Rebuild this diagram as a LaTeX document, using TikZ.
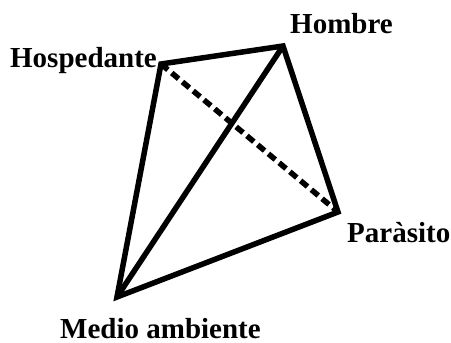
\documentclass[tikz,border=0pt]{standalone}
\usepackage{fontspec}
\setmainfont{Liberation Serif}
\begin{document}
\begin{tikzpicture}[x=1pt,y=-1pt,
  edge/.style={line width=5.5pt,line join=miter,black},
  dashedge/.style={line width=5.5pt,dash pattern=on 9pt off 5pt},
  lbl/.style={inner sep=0pt,font=\fontsize{29}{32}\selectfont\bfseries}]
\useasboundingbox (0,0) rectangle (451,343);
\coordinate (H) at (161,64);
\coordinate (M) at (283,46);
\coordinate (P) at (338,212);
\coordinate (E) at (117,297);
\draw[edge] (H) -- (M) -- (P) -- (E) -- cycle;
\draw[edge] (E) -- (M);
\draw[dashedge] (H) -- (P);
\node[lbl,anchor=base east] (lh) at (157,67) {Hospedante};
\node[lbl,anchor=base west] (lm) at (290,33) {Hombre};
\node[lbl,anchor=base west] (lp) at (347,242) {Paràsito};
\node[lbl,anchor=base west] (le) at (60,338) {Medio ambiente};
\end{tikzpicture}
\end{document}
